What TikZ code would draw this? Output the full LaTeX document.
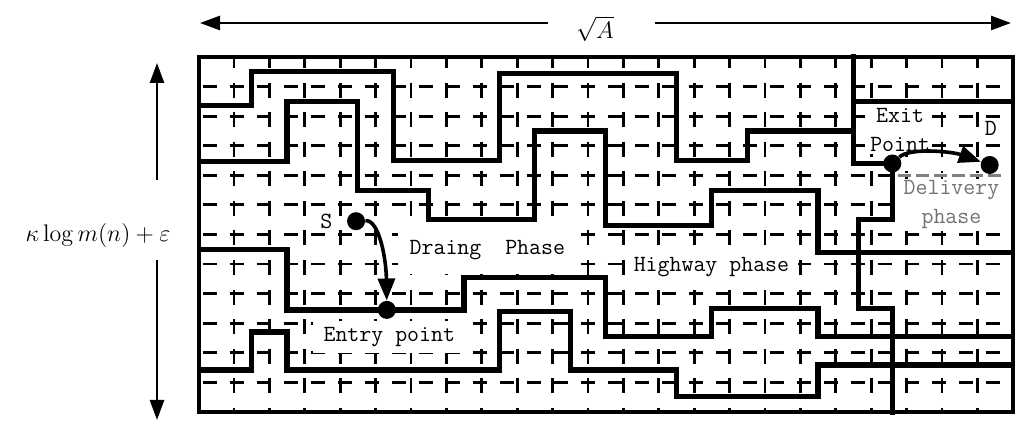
\documentclass[tikz,border=0pt]{standalone}
\usepackage{amsmath,amssymb}
\usepackage{tikz}
\usetikzlibrary{arrows.meta,positioning}

\begin{document}
\begin{tikzpicture}[x=0.5pt, y=-0.5pt, line join=miter]
  \tikzset{
    gridh/.style={line width=1.4pt, dash pattern=on 7pt off 6.5pt, dash phase=11.5pt},
    gridv/.style={line width=1.4pt, dash pattern=on 7.5pt off 7.29pt, dash phase=2pt},
    route/.style={line width=2.6pt},
    dot/.style={circle, fill=black, inner sep=0pt, minimum size=9pt},
    lbl/.style={font=\fontsize{11.6pt}{14.5pt}\selectfont\ttfamily, fill=white, inner sep=1pt, align=center},
    mathlbl/.style={font=\fontsize{13pt}{14pt}\selectfont, inner sep=0pt},
    dimarr/.style={line width=1.3pt, -{Triangle[length=10pt,width=7pt]}},
    move/.style={line width=1.8pt, -{Triangle[length=11pt,width=8.5pt]}}
  }
  \useasboundingbox (0,0) rectangle (1024,427);

  % dimension arrows
  \node[mathlbl] (wlab) at (595,29) {$\sqrt{A}$};
  \node[mathlbl] (hlab) at (98,236) {$\kappa\log m(n)+\varepsilon$};
  \coordinate (wl) at (200,23);
  \coordinate (wr) at (1011,23);
  \coordinate (wgl) at (548,23);
  \coordinate (wgr) at (655,23);
  \coordinate (ht) at (157,63);
  \coordinate (hb) at (157,420);
  \coordinate (hgt) at (157,180);
  \coordinate (hgb) at (157,260);
  \draw[dimarr] (wgl) -- (wl);
  \draw[dimarr] (wgr) -- (wr);
  \draw[dimarr] (hgt) -- (ht);
  \draw[dimarr] (hgb) -- (hb);

  % the cell grid: one unit = one cell
  \begin{scope}[shift={(198.5,57)}, x=17.7pt, y=-14.79pt]
    \foreach \j in {1,...,11}
      \draw[gridh] (0,\j) -- (23,\j);
    \foreach \i in {1,...,22}
      \draw[gridv] (\i,0) -- (\i,12);
    \draw[white, line width=2pt] (19.75,4) -- (22.75,4);
    \draw[gray, line width=1.2pt, dash pattern=on 6.5pt off 2.5pt] (19.75,4) -- (22.75,4);

    % phase labels (white boxes hide the grid)
    \node[lbl, inner xsep=6pt, inner ysep=7pt] (drain) at (8.16,6.52) {Draing~~Phase};
    \node[lbl, inner xsep=4.5pt, inner ysep=2pt] (highway) at (14.49,7.1) {Highway phase};
    \node[lbl, inner xsep=5.5pt, inner ysep=3pt] (entrytxt) at (5.39,9.47) {Entry point};
    \node[lbl] (exittxt) at (19.82,2.47) {Exit\\Point};
    \node[lbl, text=gray!90!black] (delivery) at (21.27,5.0) {Delivery\\phase};

    \draw[line width=2pt] (0,0) rectangle (23,12);

    % routes
    \draw[route] (0,1.65) -- (1.5,1.65) -- (1.5,0.5) -- (5.5,0.5) -- (5.5,3.5) -- (8.5,3.5)
      -- (8.5,0.55) -- (13.5,0.55) -- (13.5,3.5) -- (15.5,3.5) -- (15.5,2.5) -- (18.5,2.5);
    \draw[route] (0,3.54) -- (2.5,3.54) -- (2.5,1.5) -- (4.5,1.5) -- (4.5,4.5) -- (6.5,4.5)
      -- (6.5,5.5) -- (9.5,5.5) -- (9.5,2.5) -- (11.5,2.5) -- (11.5,5.7) -- (14.5,5.7)
      -- (14.5,4.5) -- (17.5,4.5) -- (17.5,6.6) -- (23,6.6);
    \draw[route] (0,6.52) -- (2.5,6.52) -- (2.5,8.55) -- (7.5,8.55) -- (7.5,7.45) -- (11.5,7.45)
      -- (11.5,9.46) -- (14.5,9.46) -- (14.5,8.5) -- (17.5,8.5) -- (17.5,9.46) -- (23,9.46);
    \draw[route] (0,10.58) -- (1.5,10.58) -- (1.5,9.3) -- (2.5,9.3) -- (2.5,10.58) -- (8.5,10.58)
      -- (8.5,8.6) -- (10.5,8.6) -- (10.5,10.58) -- (13.5,10.58) -- (13.5,11.48) -- (17.5,11.48)
      -- (17.5,10.41) -- (23,10.41);
    % delivery box and exit route
    \draw[route] (18.5,-0.1) -- (18.5,3.6) -- (19.6,3.6) -- (19.6,5.5) -- (18.65,5.5)
      -- (18.65,8.5) -- (19.6,8.5) -- (19.6,12.1);
    \draw[route] (18.5,1.5) -- (23,1.5);

    % points
    \node[dot] (src) at (4.45,5.55) {};
    \node[dot] (entry) at (5.32,8.55) {};
    \node[dot] (exit) at (19.6,3.6) {};
    \node[dot] (dst) at (22.35,3.65) {};
    \node[lbl, fill=none, left=7pt of src, inner sep=0pt] (srclab) {S};
    \node[lbl, fill=none, inner sep=0pt] (dstlab) at (22.38,2.43) {D};

    \draw[move] (src) .. controls (5.1,5.5) and (5.3,6.8) .. (entry);
    \draw[move] (exit) .. controls (20.1,3.05) and (21.3,3.2) .. (dst);
  \end{scope}
\end{tikzpicture}
\end{document}
